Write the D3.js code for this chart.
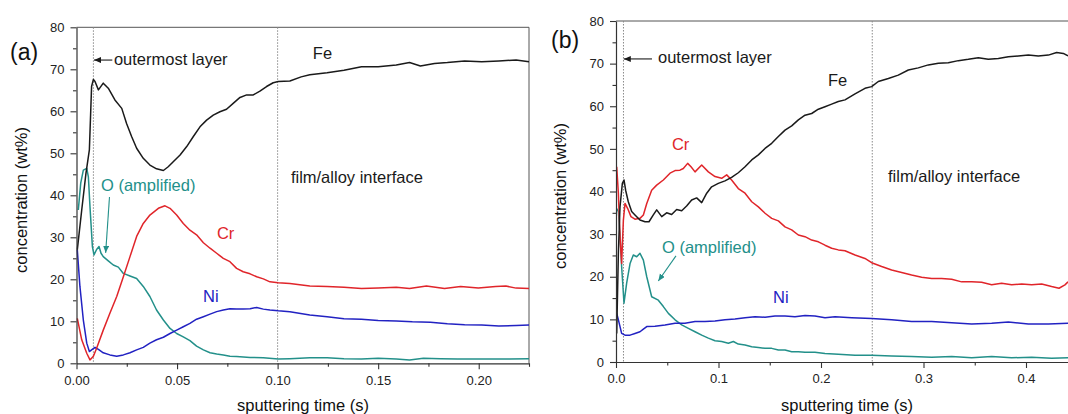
<!DOCTYPE html>
<html>
<head>
<meta charset="utf-8">
<script src="https://cdn.jsdelivr.net/npm/d3@7"></script>
<style>
  body { margin: 0; background: #fff; }
  svg text { font-family: 'Liberation Sans', Arial, sans-serif; }
</style>
</head>
<body>
<svg id="chart" width="1068" height="414"></svg>
<script>
// panel (a) - [time (s), wt%]
const feA = [[0.0004,27],[0.0026,36.5],[0.0047,45.2],[0.0064,50.8],[0.0075,65.9],[0.0084,67.6],[0.0092,67.1],[0.0109,65.1],[0.0133,66.7],[0.0158,65.5],[0.0191,62.7],[0.0225,60.7],[0.0249,57.1],[0.0274,54],[0.0299,51.2],[0.0332,48.8],[0.0365,47.2],[0.0398,46.3],[0.0432,45.9],[0.0456,46.8],[0.0481,48],[0.0515,49.6],[0.0548,51.6],[0.0581,54],[0.0614,56.3],[0.0647,57.9],[0.068,59.1],[0.0713,59.9],[0.0746,60.5],[0.0779,61.9],[0.0813,63.3],[0.0846,63.9],[0.0879,63.9],[0.0912,64.8],[0.0945,65.9],[0.0978,66.8],[0.1003,67.1],[0.1061,67.2],[0.1117,68.2],[0.116,68.7],[0.1246,69.2],[0.133,69.8],[0.1417,70.6],[0.15,70.6],[0.159,71],[0.1656,71.6],[0.171,70.8],[0.178,71.4],[0.1844,71.6],[0.193,72],[0.2015,71.8],[0.21,72],[0.2186,72.2],[0.225,71.8]]
const crA = [[0.0004,10.7],[0.0026,5.6],[0.0051,2.4],[0.0067,0.8],[0.0084,1.7],[0.01,3.6],[0.0133,7.9],[0.0166,11.9],[0.02,15.9],[0.0233,20.6],[0.0266,25.4],[0.0299,30.2],[0.0332,33.3],[0.0365,35.3],[0.0407,36.9],[0.044,37.5],[0.0465,36.9],[0.0498,35.3],[0.0531,33.3],[0.0564,31.7],[0.0597,30.6],[0.0631,28.7],[0.0664,27.4],[0.0697,26.2],[0.073,25],[0.0763,24.2],[0.0796,22.6],[0.0829,21.8],[0.0863,21.3],[0.0896,20.6],[0.0929,20.1],[0.0962,19.4],[0.1003,19.2],[0.1061,19],[0.116,18.4],[0.1246,18.3],[0.133,18.1],[0.1417,17.8],[0.15,17.9],[0.159,18.1],[0.1656,17.8],[0.174,18.4],[0.183,17.8],[0.191,18.3],[0.1998,17.9],[0.2084,18.3],[0.2135,18.4],[0.2186,17.9],[0.225,17.8]]
const niA = [[0.0004,27],[0.0017,18.3],[0.0034,10.3],[0.0051,4.8],[0.0064,2.8],[0.0075,3.2],[0.0092,3.8],[0.0109,3.3],[0.0133,2.5],[0.0166,2],[0.02,1.7],[0.0233,2],[0.0266,2.5],[0.0299,3.2],[0.0332,3.8],[0.0365,4.8],[0.0398,5.6],[0.0432,6.2],[0.0465,7.1],[0.0498,7.9],[0.0531,8.7],[0.0564,9.5],[0.0597,10.5],[0.0631,11.1],[0.0664,11.7],[0.0697,12.3],[0.073,12.7],[0.0763,13],[0.0796,12.9],[0.0829,12.9],[0.0863,13],[0.0896,13.3],[0.0929,12.9],[0.0962,12.7],[0.1003,12.5],[0.1061,12.3],[0.116,11.5],[0.1246,11.1],[0.133,10.6],[0.1417,10.5],[0.15,10.2],[0.159,10.1],[0.167,9.9],[0.176,9.8],[0.1844,9.4],[0.193,9.2],[0.2015,9.1],[0.21,8.9],[0.2186,9],[0.225,9.1]]
const oA = [[0.0009,36.5],[0.0021,42.9],[0.0034,46],[0.0051,46.4],[0.0059,44.4],[0.0067,37.3],[0.0079,27.8],[0.0087,25.8],[0.01,27.1],[0.0112,27.8],[0.0122,26.2],[0.0133,25.4],[0.0158,24.4],[0.0183,23.4],[0.0208,22.9],[0.0233,21.4],[0.0266,20.8],[0.0299,20.2],[0.0332,18.3],[0.0365,15.9],[0.0398,12.7],[0.0432,10.3],[0.0465,8.3],[0.0498,7.1],[0.0531,6.3],[0.0564,5.4],[0.0597,4.1],[0.0631,3.2],[0.0664,2.5],[0.0697,2.2],[0.073,2],[0.0763,1.7],[0.0796,1.6],[0.0863,1.4],[0.0929,1.3],[0.1003,1],[0.1061,1.1],[0.116,1.3],[0.1246,1.3],[0.133,1.1],[0.1417,1],[0.15,1.2],[0.159,1],[0.1656,0.8],[0.1725,1.2],[0.181,1.1],[0.1896,1],[0.198,1],[0.2067,1],[0.2152,1],[0.225,1.1]]

// panel (b)
const feB = [[0.0007,6.7],[0.0023,25.5],[0.0039,36.4],[0.0062,41.9],[0.0078,42.7],[0.0094,40.3],[0.012,37.6],[0.0153,35.3],[0.0185,34.5],[0.0234,33.3],[0.0283,32.9],[0.0322,32.9],[0.0364,34.5],[0.0397,35.7],[0.0446,34.1],[0.0494,35],[0.0543,34.6],[0.0592,35.8],[0.0641,35.5],[0.0689,36.6],[0.0738,38],[0.0787,38.5],[0.0836,37.4],[0.0885,39.6],[0.0933,41.1],[0.0998,41.9],[0.1063,42.5],[0.1128,43.3],[0.1193,44.4],[0.1259,45.8],[0.1324,47.4],[0.1389,48.6],[0.1454,50.1],[0.1519,51.3],[0.1584,52.9],[0.1649,54.4],[0.1714,55.4],[0.1779,56.8],[0.1844,57.9],[0.1909,58.3],[0.1974,59.3],[0.2039,59.9],[0.2104,60.5],[0.2169,61.1],[0.2234,61.5],[0.2332,62.9],[0.2429,64.2],[0.2494,64.6],[0.2559,65.8],[0.2657,66.5],[0.2754,67.3],[0.2852,68.5],[0.2949,69],[0.3047,69.7],[0.3145,70.1],[0.3242,70.2],[0.334,70.7],[0.3437,71],[0.3535,71.4],[0.3632,71],[0.373,71.2],[0.3828,71.6],[0.3925,71.8],[0.4023,72],[0.412,71.8],[0.4218,72],[0.4299,72.6],[0.4364,72.4],[0.441,71.8]]
const crB = [[0.0007,45.8],[0.0023,39.6],[0.0039,29.4],[0.0055,23.1],[0.0072,33.3],[0.0088,37.2],[0.0114,36],[0.0146,34.1],[0.0185,33.5],[0.0234,33.7],[0.0267,34.5],[0.03,37.2],[0.0348,40.3],[0.0397,41.5],[0.0462,42.7],[0.0527,44.3],[0.0576,44.9],[0.0624,45],[0.0657,45.4],[0.0699,46.6],[0.0732,45.8],[0.0771,44.6],[0.0836,46.2],[0.0901,44.6],[0.0966,43.5],[0.1031,43.1],[0.108,43.9],[0.1128,42.7],[0.1193,40.7],[0.1259,39.6],[0.1324,37.6],[0.1389,36.4],[0.1454,34.9],[0.1519,33.7],[0.1584,33.1],[0.1649,31.7],[0.1714,31],[0.1779,29.8],[0.1844,29.4],[0.1909,28.6],[0.1974,28.2],[0.2039,27.4],[0.2104,26.7],[0.2169,26.3],[0.2234,26.1],[0.2332,25.1],[0.2429,24.3],[0.2494,23.3],[0.2592,22.4],[0.2689,21.6],[0.2787,21],[0.2884,20.4],[0.2982,19.9],[0.308,19.6],[0.3177,19.6],[0.3275,19.4],[0.3372,18.8],[0.347,18.8],[0.3567,18.7],[0.3665,18.1],[0.3762,18.5],[0.386,18.1],[0.3958,18.3],[0.4055,18.1],[0.4153,18.3],[0.425,17.7],[0.4322,17.3],[0.438,18.1],[0.441,18.8]]
const niB = [[0.0007,11.4],[0.0023,9.9],[0.0055,6.7],[0.0088,6.3],[0.0137,6.3],[0.0185,6.7],[0.0234,7.1],[0.0267,7.7],[0.03,8.3],[0.038,8.4],[0.0478,8.7],[0.0576,9.1],[0.0673,9.1],[0.0771,9.5],[0.0868,9.5],[0.0966,9.6],[0.1063,9.9],[0.1161,10.1],[0.1259,10.4],[0.1356,10.6],[0.1454,10.5],[0.1551,10.8],[0.1649,10.8],[0.1746,10.6],[0.1844,10.9],[0.1941,10.8],[0.2039,10.4],[0.2137,10.6],[0.23,10.4],[0.2494,10.2],[0.2689,9.9],[0.2884,9.5],[0.308,9.5],[0.3275,9.2],[0.347,8.9],[0.3665,9.1],[0.3828,9.4],[0.4023,8.9],[0.4218,8.9],[0.441,9.1]]
const oB = [[0.0007,36],[0.0023,35.3],[0.0039,30.2],[0.0055,22.4],[0.0078,13.8],[0.0104,18.5],[0.0137,23.1],[0.0169,25.1],[0.0202,24.7],[0.0234,25.5],[0.0267,23.9],[0.03,20],[0.0348,15.3],[0.0413,14.5],[0.0462,13],[0.0511,11.4],[0.0576,9.9],[0.0641,8.7],[0.0706,7.9],[0.0771,7.1],[0.0836,6.3],[0.0901,5.6],[0.0966,5],[0.1031,4.8],[0.1096,4.4],[0.1145,4.8],[0.1193,4.2],[0.1259,4],[0.1324,3.6],[0.1389,3.4],[0.1454,3.2],[0.1519,3.2],[0.1584,2.8],[0.1649,2.8],[0.1714,2.4],[0.1779,2.4],[0.1844,2.3],[0.1941,2.3],[0.2039,2],[0.2169,1.8],[0.2332,1.6],[0.2494,1.6],[0.2689,1.4],[0.2884,1.3],[0.308,1.1],[0.3275,1.3],[0.347,1],[0.3665,1.3],[0.386,1],[0.4055,1.1],[0.425,0.9],[0.441,1]]

// ticks
const yTicks = [0, 10, 20, 30, 40, 50, 60, 70, 80]
const yMinor = [5, 15, 25, 35, 45, 55, 65, 75]
const xTicksA = [0, 0.05, 0.1, 0.15, 0.2]
const xMinorA = [0.025, 0.075, 0.125, 0.175, 0.225]
const xTicksB = [0, 0.1, 0.2, 0.3, 0.4]
const xMinorB = [0.05, 0.15, 0.25, 0.35, 0.45]

const colors = { fe: '#1a1a1a', cr: '#e0252a', ni: '#2222c2', o: '#23908a' }

const svg = d3.select('#chart')

// arrow heads
let defs = svg.append('defs')
;[['black', '#1a1a1a'], ['teal', colors.o]].forEach((m) => {
  defs
    .append('marker')
    .attr('id', 'arrow-' + m[0])
    .attr('markerUnits', 'userSpaceOnUse')
    .attr('markerWidth', 8)
    .attr('markerHeight', 8)
    .attr('refX', 7)
    .attr('refY', 3)
    .attr('orient', 'auto')
    .append('path')
    .attr('d', 'M0,0L7,3L0,6Z')
    .attr('fill', m[1])
})

const panels = [
  {
    tag: '(a)', xMax: 0.225, left: 76.5, right: 529, top: 27.3, bottom: 363.3,
    xTicks: xTicksA, xMinor: xMinorA, fmt: '.2f',
    fe: feA, cr: crA, ni: niA, o: oA,
    guides: [0.0084, 0.1],
    tagPos: [10, 60], yTitleX: 21, yTitleY: 200, xTitleX: 303,
    notes: [
      { t: 0.0186, v: 71, text: 'outermost layer', c: colors.fe },
      { t: 0.1175, v: 72.5, text: 'Fe', c: colors.fe },
      { t: 0.1066, v: 42.9, text: 'film/alloy interface', c: colors.fe },
      { t: 0.0122, v: 41, text: 'O (amplified)', c: colors.o },
      { t: 0.0698, v: 29.6, text: 'Cr', c: colors.cr },
      { t: 0.0629, v: 14.6, text: 'Ni', c: colors.ni }
    ],
    arrows: [
      { from: [0.0178, 72.2], to: [0.0087, 72.2], m: 'black' },
      { from: [0.0164, 39.6], to: [0.0145, 26.3], m: 'teal' }
    ]
  },
  {
    tag: '(b)', xMax: 0.45, left: 616, right: 1077.25, top: 21, bottom: 362,
    xTicks: xTicksB, xMinor: xMinorB, fmt: '.1f',
    fe: feB, cr: crB, ni: niB, o: oB,
    guides: [0.0073, 0.25],
    tagPos: [551, 48], yTitleX: 560, yTitleY: 196, xTitleX: 847,
    notes: [
      { t: 0.041, v: 70.1, text: 'outermost layer', c: colors.fe },
      { t: 0.2068, v: 64.75, text: 'Fe', c: colors.fe },
      { t: 0.2654, v: 42.2, text: 'film/alloy interface', c: colors.fe },
      { t: 0.0546, v: 49.7, text: 'Cr', c: colors.cr },
      { t: 0.0449, v: 25.6, text: 'O (amplified)', c: colors.o },
      { t: 0.1532, v: 13.8, text: 'Ni', c: colors.ni }
    ],
    arrows: [
      { from: [0.0351, 71.1], to: [0.0076, 71.1], m: 'black' },
      { from: [0.0585, 24.9], to: [0.0413, 19.0], m: 'teal' }
    ]
  }
]

panels.forEach((p) => {
  let x = d3.scaleLinear().domain([0, p.xMax]).range([p.left, p.right])
  let y = d3.scaleLinear().domain([0, 80]).range([p.bottom, p.top])
  let g = svg.append('g')

  // frame (top + right)
  g.append('path')
    .attr('d', `M${p.left},${p.top}H${p.right}V${p.bottom}`)
    .attr('stroke', '#555')
    .attr('stroke-width', 1)
    .attr('fill', 'none')

  // dotted guide lines
  g.selectAll('.guide')
    .data(p.guides)
    .enter()
    .append('line')
    .attr('class', 'guide')
    .attr('x1', (d) => {
      return x(d)
    })
    .attr('x2', (d) => {
      return x(d)
    })
    .attr('y1', y(80))
    .attr('y2', y(0))
    .attr('stroke', '#8a8a8a')
    .attr('stroke-width', 1)
    .attr('stroke-dasharray', '1.5,1.5')

  let line = d3
    .line()
    .x((d) => {
      return x(d[0])
    })
    .y((d) => {
      return y(d[1])
    })

  ;['o', 'ni', 'cr', 'fe'].forEach((k) => {
    g.append('path')
      .datum(p[k])
      .attr('d', line)
      .attr('stroke', colors[k])
      .style('stroke-width', 1.5)
      .style('stroke-linejoin', 'round')
      .style('fill', 'none')
  })

  // axes
  let yAxis = g.append('g')
    .attr('transform', `translate(${p.left},0)`)
    .call(d3.axisLeft(y).tickValues(yTicks).tickSize(6).tickSizeOuter(0).tickPadding(6))
  let yMin = g.append('g')
    .attr('transform', `translate(${p.left},0)`)
    .call(d3.axisLeft(y).tickValues(yMinor).tickSize(3.5).tickFormat(''))
  let xAxis = g.append('g')
    .attr('transform', `translate(0,${p.bottom})`)
    .call(d3.axisBottom(x).tickValues(p.xTicks).tickSize(6).tickSizeOuter(0).tickPadding(6).tickFormat(d3.format(p.fmt)))
  let xMin = g.append('g')
    .attr('transform', `translate(0,${p.bottom})`)
    .call(d3.axisBottom(x).tickValues(p.xMinor).tickSize(3.5).tickFormat(''))

  ;[yMin, xMin].forEach((a) => {
    a.select('.domain').remove()
  })
  ;[yAxis, xAxis, yMin, xMin].forEach((a) => {
    a.selectAll('line').attr('stroke', '#333').attr('stroke-width', 1.1)
    a.selectAll('.domain').attr('stroke', '#333').attr('stroke-width', 1.2)
    a.selectAll('text')
      .style('font-size', '13px')
      .style('font-family', "'Liberation Sans', Arial, sans-serif")
      .attr('fill', '#222')
  })

  // panel tag
  g.append('text')
    .attr('x', p.tagPos[0])
    .attr('y', p.tagPos[1])
    .style('font-size', '23px')
    .attr('fill', '#111')
    .text(p.tag)

  // axis titles
  g.append('text')
    .attr('transform', `translate(${p.yTitleX},${p.yTitleY}) rotate(-90)`)
    .attr('text-anchor', 'middle')
    .attr('dy', '0.35em')
    .style('font-size', '16.5px')
    .attr('fill', '#111')
    .text('concentration (wt%)')

  g.append('text')
    .attr('x', p.xTitleX)
    .attr('y', 411)
    .attr('text-anchor', 'middle')
    .style('font-size', '16.5px')
    .attr('fill', '#111')
    .text('sputtering time (s)')

  // annotations
  g.selectAll('.note')
    .data(p.notes)
    .enter()
    .append('text')
    .attr('class', 'note')
    .attr('x', (d) => {
      return x(d.t)
    })
    .attr('y', (d) => {
      return y(d.v)
    })
    .style('font-size', '16.5px')
    .attr('fill', (d) => {
      return d.c
    })
    .text((d) => {
      return d.text
    })

  g.selectAll('.arr')
    .data(p.arrows)
    .enter()
    .append('line')
    .attr('class', 'arr')
    .attr('x1', (d) => {
      return x(d.from[0])
    })
    .attr('y1', (d) => {
      return y(d.from[1])
    })
    .attr('x2', (d) => {
      return x(d.to[0])
    })
    .attr('y2', (d) => {
      return y(d.to[1])
    })
    .attr('stroke', (d) => {
      return d.m === 'teal' ? colors.o : colors.fe
    })
    .attr('stroke-width', 1.1)
    .attr('marker-end', (d) => {
      return 'url(#arrow-' + d.m + ')'
    })
})
</script>
</body>
</html>
